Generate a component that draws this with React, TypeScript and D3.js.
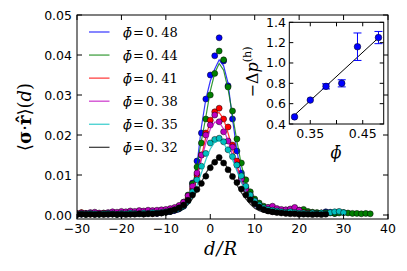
import React from "react";
import * as d3 from "d3";

// legend labels, colours (matplotlib classic b, g, r, m, c, k)
const phiLabels = ["0.48", "0.44", "0.41", "0.38", "0.35", "0.32"];
const colors = ["#0000ff", "#008000", "#ff0000", "#bf00bf", "#00bfbf", "#000000"];

// measured points, d = -30, -29, ... (one per unit of d/R)
const dStart = -30;
const pts048 = [
  0.0003, 0.0002, 0.0004, 0.0003, 0.0002, 0.0003, 0.0004, 0.0002, 0.0003, 0.0003, 0.0002, 0.0004,
  0.0003, 0.0003, 0.0004, 0.0003, 0.0004, 0.0005, 0.0004, 0.0006, 0.0007, 0.0009, 0.0012, 0.0016,
  0.0022, 0.004, 0.008, 0.0135, 0.0205, 0.029, 0.035, 0.0398, 0.0443, 0.0385, 0.0323, 0.024, 0.016,
  0.0105, 0.0068, 0.0045, 0.003, 0.002, 0.0015,
  0.0012, 0.001, 0.0009, 0.0008, 0.0007, 0.0006, 0.0006, 0.0005, 0.0005, 0.0004, 0.0005, 0.0004,
  0.0005, 0.0008, 0.0007, 0.0004,
];
const pts044 = [
  0.0002, 0.0003, 0.0002, 0.0003, 0.0004, 0.0002, 0.0003, 0.0003, 0.0004, 0.0002, 0.0003, 0.0004,
  0.0003, 0.0005, 0.0004, 0.0003, 0.0005, 0.0004, 0.0006, 0.0005, 0.0007, 0.0009, 0.0013, 0.0022,
  0.0032, 0.005, 0.0078, 0.012, 0.018, 0.024, 0.03, 0.0354, 0.041, 0.0388, 0.032, 0.026, 0.019,
  0.013, 0.0088, 0.0058, 0.004, 0.003, 0.0022,
  0.0018, 0.0015, 0.0012, 0.001, 0.0009, 0.0008, 0.0009, 0.0012, 0.0014, 0.0009, 0.0007, 0.0006,
  0.0005, 0.0006, 0.0005, 0.0004, 0.0005, 0.0006, 0.0005, 0.0004, 0.0004, 0.0003, 0.0004, 0.0003,
];
const pts041 = [
  0.0004, 0.0006, 0.0003, 0.0002, 0.0004, 0.0003, 0.0005, 0.0004, 0.0003, 0.0004, 0.0006, 0.0004,
  0.0003, 0.0005, 0.0004, 0.0006, 0.0005, 0.0004, 0.0007, 0.0006, 0.0008, 0.001, 0.0014, 0.002,
  0.0028, 0.0042, 0.0065, 0.01, 0.015, 0.0205, 0.0237, 0.0258, 0.0267, 0.024, 0.022, 0.0175, 0.0135,
  0.0095, 0.0065, 0.0045, 0.003, 0.0022, 0.0016,
  0.0012, 0.0009, 0.0008, 0.001, 0.0012, 0.0009, 0.0007, 0.0008, 0.0006, 0.0005, 0.0004, 0.0003,
];
const pts038 = [
  0.0003, 0.0005, 0.0004, 0.0006, 0.0007, 0.0005, 0.0004, 0.0006, 0.0008, 0.0007, 0.0009, 0.0008,
  0.001, 0.0009, 0.0011, 0.001, 0.0012, 0.0011, 0.0012, 0.0013, 0.0014, 0.0016, 0.0019, 0.0024,
  0.0032, 0.0048, 0.0072, 0.0105, 0.015, 0.02, 0.0225, 0.025, 0.0233, 0.0208, 0.0185, 0.017, 0.0125,
  0.009, 0.0065, 0.005, 0.0035, 0.0022, 0.0017,
  0.0019, 0.0022, 0.0016, 0.0014, 0.0013, 0.0015, 0.0019, 0.0012,
];
const pts035 = [
  0.0002, 0.0003, 0.0002, 0.0004, 0.0003, 0.0002, 0.0003, 0.0004, 0.0003, 0.0002, 0.0004, 0.0003,
  0.0005, 0.0004, 0.0003, 0.0005, 0.0004, 0.0006, 0.0005, 0.0006, 0.0008, 0.001, 0.0013, 0.0017,
  0.0023, 0.0035, 0.0058, 0.0088, 0.0122, 0.0154, 0.018, 0.0189, 0.0192, 0.0183, 0.0163, 0.0146,
  0.0125, 0.0098, 0.0072, 0.005, 0.0035, 0.0025, 0.0018,
  0.0014, 0.0012, 0.001, 0.0008, 0.0007, 0.0008, 0.0006, 0.0005, 0.0005, 0.0004, 0.0005, 0.0004,
  0.0005, 0.0004, 0.0006, 0.0008, 0.0009, 0.0006,
];
const pts032 = [
  0.0001, 0.0002, 0.0001, 0.0002, 0.0001, 0.0002, 0.0001, 0.0002, 0.0002, 0.0001, 0.0002, 0.0001,
  0.0002, 0.0002, 0.0003, 0.0002, 0.0003, 0.0003, 0.0004, 0.0005, 0.0007, 0.001, 0.0013, 0.0018,
  0.0025, 0.0037, 0.005, 0.0064, 0.0079, 0.0097, 0.0118, 0.0132, 0.0144, 0.013, 0.0113, 0.0096,
  0.0081, 0.0065, 0.005, 0.0038, 0.0028, 0.002, 0.0014,
  0.001, 0.0008, 0.0006, 0.0005, 0.0004, 0.0003, 0.0003, 0.0002, 0.0002, 0.0002, 0.0001, 0.0002,
  0.0001, 0.0002,
];

// fitted curves, d = -12 ... 16
const fitStart = -12;
const fit048 = [
  0.0001, 0.0001, 0.0002, 0.0003, 0.0005, 0.0009,
  0.0016, 0.003, 0.0062, 0.0125, 0.022, 0.029, 0.0335, 0.0365, 0.0388, 0.0373, 0.033, 0.024, 0.016,
  0.0102, 0.0062, 0.0037, 0.0022, 0.0013, 0.0008,
  0.0005, 0.0003, 0.0002, 0.0001,
];
const fit044 = [
  0.0001, 0.0002, 0.0003, 0.0005, 0.0008, 0.0013,
  0.0022, 0.004, 0.0072, 0.0125, 0.0185, 0.0245, 0.031, 0.0355, 0.0379, 0.0362, 0.0315, 0.025,
  0.0185, 0.0125, 0.008, 0.005, 0.003, 0.0018, 0.001,
  0.0006, 0.0004, 0.0002, 0.0001,
];
const fit041 = [
  0.0001, 0.0002, 0.0003, 0.0005, 0.0008, 0.0012,
  0.0018, 0.003, 0.0055, 0.0095, 0.0145, 0.0195, 0.0235, 0.0255, 0.0256, 0.024, 0.0205, 0.0165,
  0.0125, 0.0088, 0.006, 0.0038, 0.0024, 0.0014, 0.0008,
  0.0005, 0.0003, 0.0002, 0.0001,
];
const fit038 = [
  0.0002, 0.0003, 0.0004, 0.0006, 0.0009, 0.0013,
  0.002, 0.0035, 0.006, 0.0095, 0.0138, 0.018, 0.0215, 0.0232, 0.0232, 0.0215, 0.0185, 0.015,
  0.0115, 0.0083, 0.0057, 0.0038, 0.0024, 0.0015, 0.0009,
  0.0006, 0.0004, 0.0003, 0.0002,
];
const fit035 = [
  0.0001, 0.0002, 0.0003, 0.0005, 0.0007, 0.001,
  0.0015, 0.0028, 0.0047, 0.0074, 0.0105, 0.0138, 0.0165, 0.0182, 0.0186, 0.0179, 0.0162, 0.0138,
  0.011, 0.0082, 0.0058, 0.0038, 0.0024, 0.0014, 0.0008,
  0.0005, 0.0003, 0.0002, 0.0001,
];
const fit032 = [
  0.0001, 0.0001, 0.0002, 0.0003, 0.0005, 0.0008,
  0.0015, 0.0026, 0.0041, 0.006, 0.0082, 0.0104, 0.0123, 0.0136, 0.0139, 0.0132, 0.0116, 0.0096,
  0.0075, 0.0056, 0.004, 0.0027, 0.0017, 0.0011, 0.0007,
  0.0004, 0.0003, 0.0002, 0.0001,
];

const points = [pts048, pts044, pts041, pts038, pts035, pts032];
const fits = [fit048, fit044, fit041, fit038, fit035, fit032];

const xTicks = [-30, -20, -10, 0, 10, 20, 30, 40];
const yTicks = [0, 0.01, 0.02, 0.03, 0.04, 0.05];

// inset: pressure jump vs packing fraction
const insetPhi = [0.32, 0.35, 0.38, 0.41, 0.44, 0.48];
const insetDp = [0.47, 0.635, 0.77, 0.8, 1.16, 1.25];
const insetErr = [0.005, 0.01, 0.025, 0.035, 0.135, 0.06];
const insetFitPhi = [0.315, 0.477];
const insetFitDp = [0.464, 1.233];
const insetXTicks = [0.35, 0.4, 0.45];
const insetXLabels = ["0.35", "", "0.45"];
const insetYTicks = [0.4, 0.6, 0.8, 1.0, 1.2, 1.4];

const W = 407;
const H = 271;
const M = { l: 77, t: 15, r: 388, b: 219 };
const I = { l: 289.3, t: 22.3, r: 383.7, b: 124 };
const sans = "DejaVu Sans";
const serif = "DejaVu Serif";

export default function App() {
  const x = d3.scaleLinear().domain([-30, 40]).range([M.l, M.r]);
  const y = d3.scaleLinear().domain([-0.001, 0.05]).range([M.b, M.t]);
  const ix = d3.scaleLinear().domain([0.31, 0.49]).range([I.l, I.r]);
  const iy = d3.scaleLinear().domain([0.4, 1.4]).range([I.b, I.t]);

  const fitLine = d3
    .line<number>()
    .x((v, i) => x(fitStart + i))
    .y((v) => y(v));

  const tl = 5;

  return (
    <svg width={W} height={H} style={{ position: "absolute", left: 0, top: 0, background: "#fff" }}>
      <defs>
        <clipPath id="main">
          <rect x={M.l} y={M.t} width={M.r - M.l} height={M.b - M.t} />
        </clipPath>
      </defs>

      {/* data */}
      <g clipPath="url(#main)">
        {points.map((arr, s) => (
          <g key={s}>
            {arr.map((v, i) => (
              <circle key={i} cx={x(dStart + i)} cy={y(v)} r={3} fill={colors[s]} stroke="#000" strokeWidth={0.5} />
            ))}
            <path d={fitLine(fits[s]) || ""} fill="none" stroke={colors[s]} strokeOpacity={0.8} strokeWidth={1.2} />
          </g>
        ))}
      </g>

      {/* legend */}
      {phiLabels.map((lab, s) => {
        const ly = 32 + s * 23.06;
        return (
          <g key={lab}>
            <line x1={89} x2={109.5} y1={ly} y2={ly} stroke={colors[s]} strokeOpacity={0.8} strokeWidth={1.2} />
            <text x={123} y={ly + 4.5} fontFamily={serif} fontSize={13}>
              <tspan fontStyle="italic">{"\u03D5\u0304"}</tspan>
              <tspan dx={1}>=</tspan>
              <tspan dx={2}>{lab.slice(0, 2)}</tspan>
              <tspan dx={3}>{lab.slice(2)}</tspan>
            </text>
          </g>
        );
      })}

      {/* main frame and ticks */}
      <rect x={M.l} y={M.t} width={M.r - M.l} height={M.b - M.t} fill="none" stroke="#000" strokeWidth={1} />
      {xTicks.map((t) => (
        <g key={t}>
          <line x1={x(t)} x2={x(t)} y1={M.b} y2={M.b - tl} stroke="#000" />
          <line x1={x(t)} x2={x(t)} y1={M.t} y2={M.t + tl} stroke="#000" />
          <text x={x(t)} y={233} textAnchor="middle" fontFamily={sans} fontSize={12.5}>
            {t < 0 ? "\u2212" + Math.abs(t) : String(t)}
          </text>
        </g>
      ))}
      {yTicks.map((t) => (
        <g key={t}>
          <line x1={M.l} x2={M.l + tl} y1={y(t)} y2={y(t)} stroke="#000" />
          <line x1={M.r} x2={M.r - tl} y1={y(t)} y2={y(t)} stroke="#000" />
          <text x={72} y={y(t) + 4.5} textAnchor="end" fontFamily={sans} fontSize={12.5}>
            {d3.format(".2f")(t)}
          </text>
        </g>
      ))}

      {/* axis labels */}
      <text x={221} y={255} textAnchor="middle" fontFamily={serif} fontSize={18} fontStyle="italic" letterSpacing={1}>
        d/R
      </text>
      <text transform="translate(31,117) rotate(-90)" textAnchor="middle" fontFamily={serif} fontSize={18}>
        <tspan>{"\u27E8"}</tspan>
        <tspan fontWeight="bold">{"\u03C3"}</tspan>
        <tspan>{"\u00B7"}</tspan>
        <tspan fontWeight="bold">{"r\u0302"}</tspan>
        <tspan>{"\u27E9("}</tspan>
        <tspan fontStyle="italic">d</tspan>
        <tspan>)</tspan>
      </text>

      {/* inset */}
      <rect x={I.l} y={I.t} width={I.r - I.l} height={I.b - I.t} fill="#fff" stroke="#000" strokeWidth={1} />
      <line
        x1={ix(insetFitPhi[0])}
        y1={iy(insetFitDp[0])}
        x2={ix(insetFitPhi[1])}
        y2={iy(insetFitDp[1])}
        stroke="#000"
        strokeWidth={1}
      />
      {insetPhi.map((p, i) => (
        <g key={p}>
          {insetErr[i] > 0.015 && (
            <g stroke="#0000ff" strokeWidth={1}>
              <line x1={ix(p)} x2={ix(p)} y1={iy(insetDp[i] - insetErr[i])} y2={iy(insetDp[i] + insetErr[i])} />
              <line x1={ix(p) - 4} x2={ix(p) + 4} y1={iy(insetDp[i] - insetErr[i])} y2={iy(insetDp[i] - insetErr[i])} />
              <line x1={ix(p) - 4} x2={ix(p) + 4} y1={iy(insetDp[i] + insetErr[i])} y2={iy(insetDp[i] + insetErr[i])} />
            </g>
          )}
          <circle cx={ix(p)} cy={iy(insetDp[i])} r={3.3} fill="#0000ff" stroke="#000" strokeWidth={0.5} />
        </g>
      ))}
      {insetXTicks.map((t, i) => (
        <g key={t}>
          <line x1={ix(t)} x2={ix(t)} y1={I.b} y2={I.b - 4} stroke="#000" />
          <line x1={ix(t)} x2={ix(t)} y1={I.t} y2={I.t + 4} stroke="#000" />
          <text x={ix(t)} y={138} textAnchor="middle" fontFamily={sans} fontSize={12.5}>
            {insetXLabels[i]}
          </text>
        </g>
      ))}
      {insetYTicks.map((t) => (
        <g key={t}>
          <line x1={I.l} x2={I.l + 4} y1={iy(t)} y2={iy(t)} stroke="#000" />
          <line x1={I.r} x2={I.r - 4} y1={iy(t)} y2={iy(t)} stroke="#000" />
          <text x={286} y={iy(t) + 4.5} textAnchor="end" fontFamily={sans} fontSize={12.5}>
            {t.toFixed(1)}
          </text>
        </g>
      ))}
      <text x={336} y={158} textAnchor="middle" fontFamily={serif} fontSize={16} fontStyle="italic">
        {"\u03D5\u0304"}
      </text>
      <text transform="translate(258,72) rotate(-90)" textAnchor="middle" fontFamily={serif} fontSize={16}>
        <tspan>{"\u2212\u0394"}</tspan>
        <tspan fontStyle="italic">p</tspan>
        <tspan fontSize={11} dy={-7}>(h)</tspan>
      </text>
    </svg>
  );
}
